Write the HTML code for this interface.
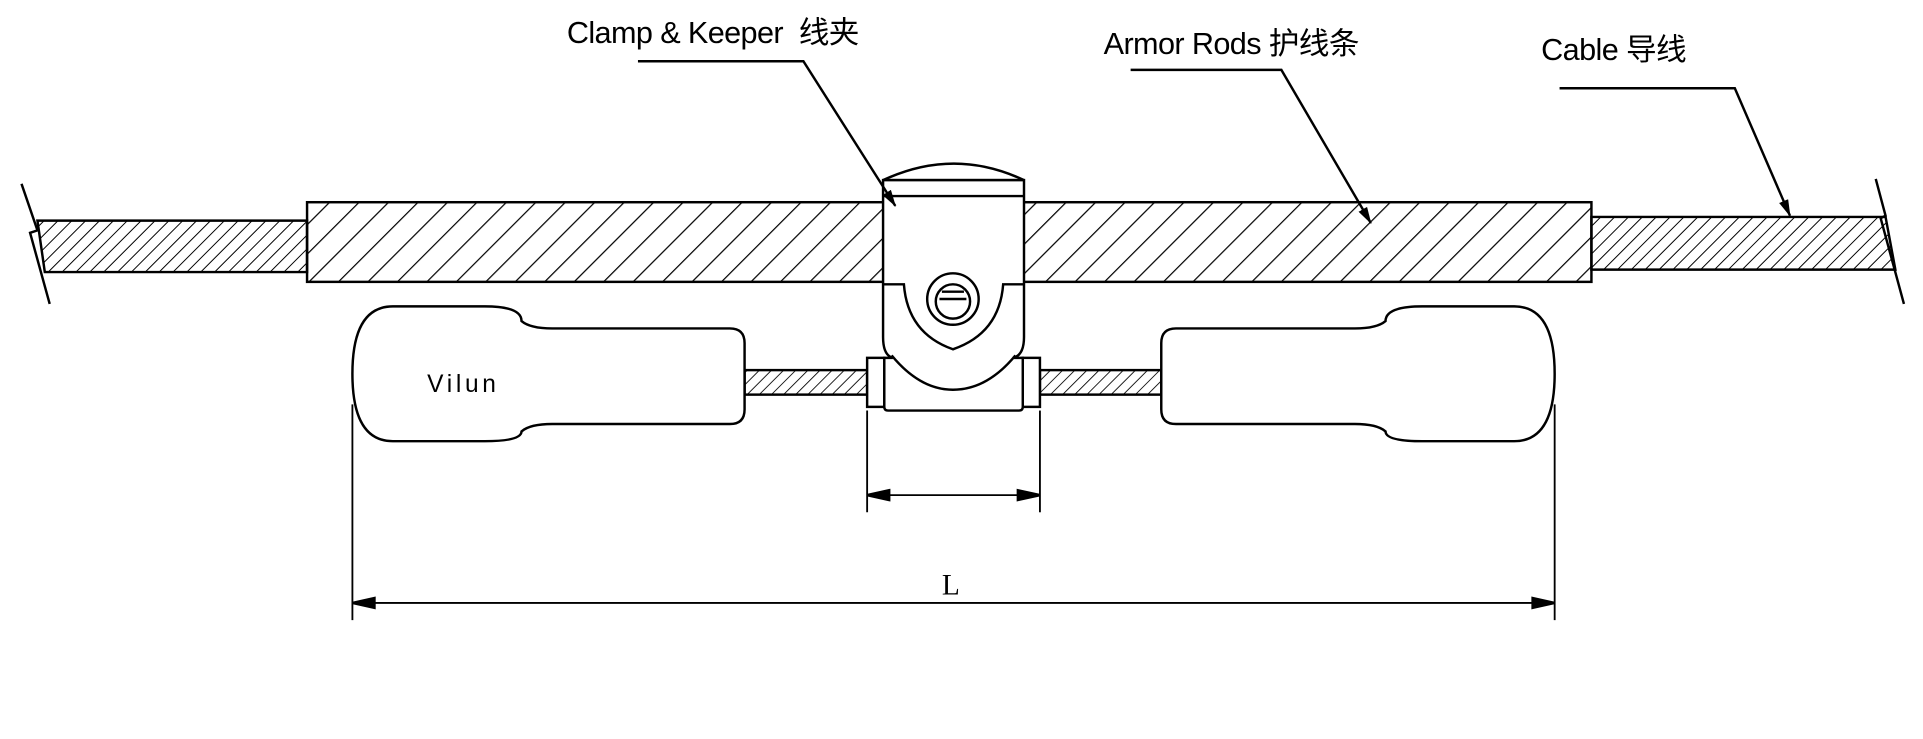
<!DOCTYPE html>
<html><head><meta charset="utf-8"><style>
html,body{margin:0;padding:0;background:#fff;}
svg{display:block;}
text{font-family:"Liberation Sans","Noto Sans CJK SC",sans-serif;fill:#000;}
</style></head><body>
<svg width="1923" height="739" viewBox="0 0 1568 603" xmlns="http://www.w3.org/2000/svg">
<defs>
<pattern id="h1" patternUnits="userSpaceOnUse" width="17" height="17" patternTransform="rotate(45)">
<line x1="0" y1="0" x2="0" y2="17" stroke="#000" stroke-width="2"/></pattern>
<pattern id="h2" patternUnits="userSpaceOnUse" width="8" height="8" patternTransform="rotate(45)">
<line x1="0" y1="0" x2="0" y2="8" stroke="#000" stroke-width="1.6"/></pattern>
<pattern id="h3" patternUnits="userSpaceOnUse" width="7" height="7" patternTransform="rotate(45)">
<line x1="0" y1="0" x2="0" y2="7" stroke="#000" stroke-width="1.4"/></pattern>
<marker id="ar" markerWidth="14" markerHeight="8" refX="13" refY="4" orient="auto" markerUnits="userSpaceOnUse">
<path d="M0,0 L14,4 L0,8 Z" fill="#000"/></marker>
</defs>
<g stroke="#000" stroke-width="2" fill="none">
<path d="M30,180 L250,180 L250,222 L36,222 Z" fill="url(#h2)"/>
<path d="M1298,177 L1538,177 L1546,220 L1298,220 Z" fill="url(#h2)"/>
<path d="M17,150 L30,188 L24,190 L40,248" stroke-width="2"/>
<path d="M1530,146 L1538,176 L1534,178 L1553,248" stroke-width="2"/>
<rect x="250" y="165" width="1048" height="65" fill="url(#h1)"/>
<rect x="607" y="302" width="100" height="20" fill="url(#h3)"/>
<rect x="848" y="302" width="99" height="20" fill="url(#h3)"/>
<path d="M320,250 L395,250 Q425,250 425,262 Q432,268 450,268 L595,268 Q607,268 607,280 L607,334 Q607,346 595,346 L450,346 Q432,346 425,352 Q425,360 395,360 L320,360 Q287,360 287,305 Q287,250 320,250 Z" fill="#fff"/>
<path d="M1235,250 L1160,250 Q1130,250 1130,262 Q1123,268 1105,268 L959,268 Q947,268 947,280 L947,334 Q947,346 959,346 L1105,346 Q1123,346 1130,352 Q1130,360 1160,360 L1235,360 Q1268,360 1268,305 Q1268,250 1235,250 Z" fill="#fff"/>
<path d="M720,147 Q778,120 835,147 Z" fill="#fff"/>
<rect x="707" y="292" width="14" height="40" fill="#fff"/>
<rect x="834" y="292" width="14" height="40" fill="#fff"/>
<path d="M720,147 L835,147 L835,275 Q835,290 826,292 L834,292 L834,332 Q834,335 831,335 L724,335 Q721,335 721,332 L721,292 L728,292 Q720,290 720,275 Z" fill="#fff"/>
<line x1="720" y1="160" x2="835" y2="160"/>
<path d="M720,232 L737,232 Q740,272 777,285 Q815,272 818,232 L835,232"/>
<path d="M727,290 Q750,318 777,318 Q805,318 828,290"/>
<circle cx="777" cy="244" r="21"/>
<circle cx="777" cy="246" r="14"/>
<path d="M766,244 L788,244 M768,238 L786,238"/>
<line x1="287" y1="330" x2="287" y2="506" stroke-width="1.5"/>
<line x1="1268" y1="330" x2="1268" y2="506" stroke-width="1.5"/>
<line x1="300" y1="492" x2="1255" y2="492" stroke-width="1.5"/>
<path d="M287,492 L305,488 L305,496 Z M1268,492 L1250,488 L1250,496 Z" fill="#000"/>
<line x1="707" y1="335" x2="707" y2="418" stroke-width="1.5"/>
<line x1="848" y1="335" x2="848" y2="418" stroke-width="1.5"/>
<line x1="720" y1="404" x2="835" y2="404" stroke-width="1.5"/>
<path d="M707,404 L725,400 L725,408 Z M848,404 L830,400 L830,408 Z" fill="#000"/>
<path d="M520,50 L655,50 L730,168" stroke-width="2" marker-end="url(#ar)"/>
<path d="M922,57 L1045,57 L1118,182" stroke-width="2" marker-end="url(#ar)"/>
<path d="M1272,72 L1415,72 L1460,176" stroke-width="2" marker-end="url(#ar)"/>
</g>
<text x="462" y="35" font-size="25" letter-spacing="-0.5">Clamp &amp; Keeper&#160;&#160;线夹</text>
<text x="900" y="44" font-size="25" letter-spacing="-0.5">Armor Rods 护线条</text>
<text x="1257" y="49" font-size="25" letter-spacing="-0.5">Cable 导线</text>
<text x="348" y="320" font-size="20" letter-spacing="3">Vilun</text>
<text x="768" y="485" font-size="24" style="font-family:'Liberation Serif',serif">L</text>
</svg>
</body></html>
